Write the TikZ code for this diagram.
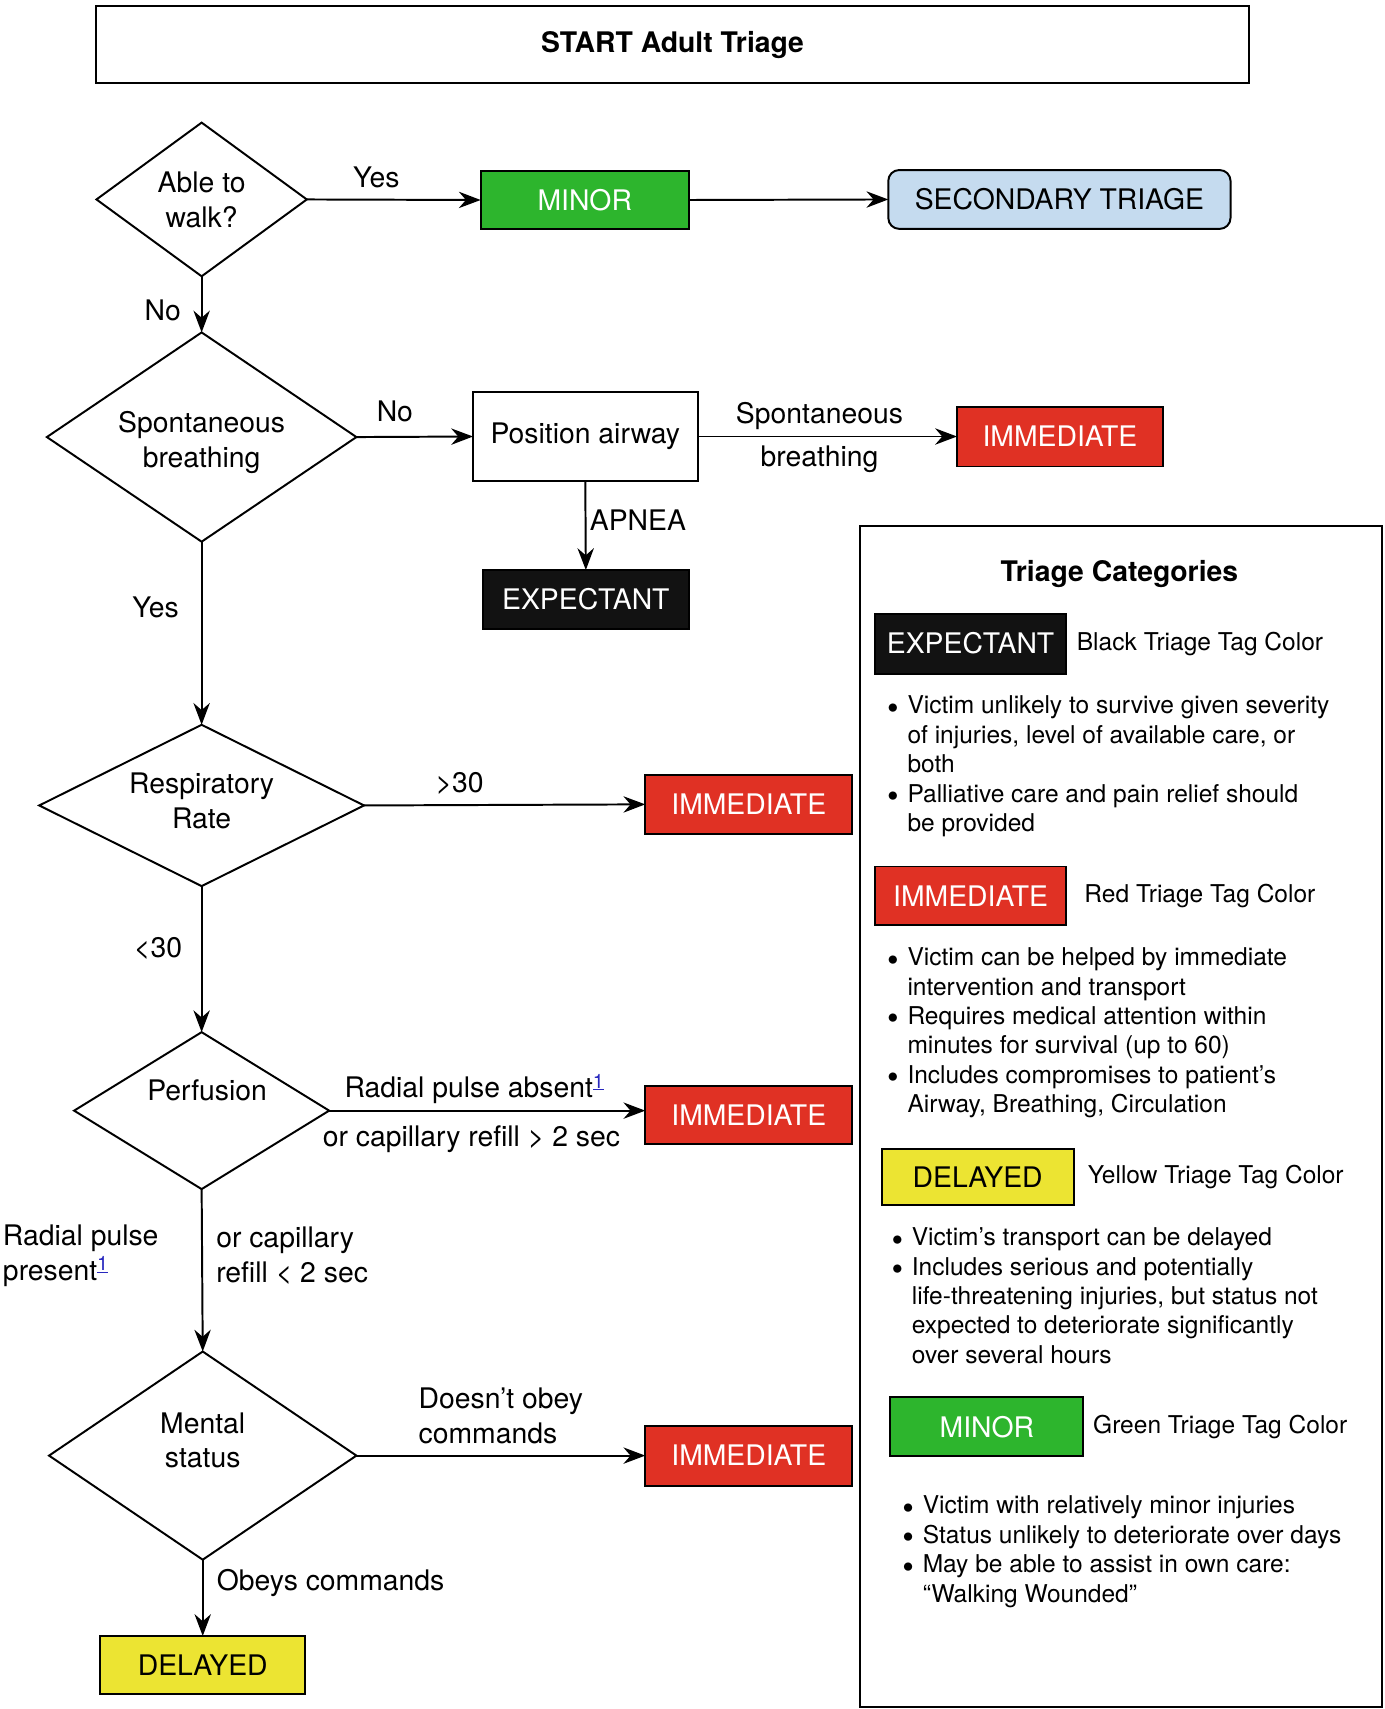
\documentclass[tikz,border=0pt]{standalone}
\usepackage{fontspec}
\setmainfont{TeX Gyre Heros}
\usetikzlibrary{shapes.geometric,arrows.meta,positioning}

\definecolor{tagred}{RGB}{224,49,36}
\definecolor{taggreen}{RGB}{45,181,45}
\definecolor{tagyellow}{RGB}{236,228,50}
\definecolor{tagblack}{RGB}{18,18,18}
\definecolor{secblue}{RGB}{197,219,239}
\definecolor{linkblue}{RGB}{40,40,190}

\newcommand{\flowfont}{\fontsize{26}{32}\selectfont}
\newcommand{\legfont}{\fontsize{22.5}{27}\selectfont}
\newcommand{\fnref}{\textsuperscript{\color{linkblue}\underline{1}}}
\newcommand{\bul}{\raisebox{-5pt}{\scalebox{1.35}{\textbullet}}}
\newcommand{\taglist}[1]{\begin{tabular}{@{}l@{\hspace{8pt}}l@{}}#1\end{tabular}}

\begin{document}
\begin{tikzpicture}[x=1pt,y=-1pt,every node/.style={outer sep=0pt},line width=1.8pt,
 decision/.style={draw,diamond,inner sep=0pt,font=\flowfont,align=center},
 tag/.style={draw,line width=1.8pt,minimum width=190pt,minimum height=54pt,font=\flowfont},
 immediate/.style={tag,fill=tagred,text=white},
 minor/.style={tag,fill=taggreen,text=white},
 delayed/.style={tag,fill=tagyellow},
 expectant/.style={tag,fill=tagblack,text=white},
 lab/.style={font=\flowfont,inner sep=0pt},
 legtext/.style={font=\legfont,inner sep=0pt},
 flow/.style={-{Stealth[length=20pt,width=15pt]}}]

\useasboundingbox (0,0) rectangle (1270,1568);

\node[draw,minimum width=1058pt,minimum height=71pt,font=\flowfont\bfseries] (title) at (617,41) {START Adult Triage};

% flow chart
\node[decision,minimum width=193pt,minimum height=141pt,aspect=1.37] (walk) at (185,183) {Able to\\walk?};
\node[minor,minimum width=191pt,minimum height=53pt] (minor) at (536.5,183.5) {MINOR};
\node[tag,fill=secblue,rounded corners=10pt,minimum width=314pt] (sec) at (972,183) {SECONDARY TRIAGE};

\node[decision,minimum width=284pt,minimum height=192pt,aspect=1.48,
 label={[lab,align=center,yshift=-5pt]center:{Spontaneous\\breathing}}] (breath) at (185,401) {};
\node[tag,minimum width=206pt,minimum height=81pt] (airway) at (537,400.5) {Position airway};
\node[immediate,minimum width=189pt,minimum height=55pt] (imm1) at (972.5,400.5) {IMMEDIATE};
\node[expectant,minimum width=189pt] (expect) at (537.5,550) {EXPECTANT};

\node[decision,minimum width=298pt,minimum height=148pt,aspect=2,
 label={[lab,align=center,yshift=4pt]center:{Respiratory\\Rate}}] (resp) at (185,739) {};
\node[immediate] (imm2) at (687,738) {IMMEDIATE};

\node[decision,minimum width=234pt,minimum height=144pt,aspect=1.6,
 label={[lab,xshift=5pt,yshift=19pt]center:Perfusion}] (perf) at (185,1019) {};
\node[immediate] (imm3) at (687,1023) {IMMEDIATE};

\node[decision,minimum width=282pt,minimum height=191pt,aspect=1.48,
 label={[lab,align=center,yshift=14pt]center:{Mental\\status}}] (mental) at (186,1335.5) {};
\node[immediate,minimum height=55pt] (imm4) at (687,1335.5) {IMMEDIATE};
\node[delayed,minimum width=188pt,minimum height=53pt] (delay) at (186,1527.5) {DELAYED};

\draw[flow] (walk.east) -- (minor.west) node[lab,pos=0.4,above=11pt] {Yes};
\draw[flow] (minor.east) -- (sec.west);
\draw[flow] (walk.south) -- (breath.north) node[lab,pos=0.6,left=19pt] {No};
\draw[flow] (breath.east) -- (airway.west) node[lab,pos=0.33,above=14pt] {No};
\draw[flow] (airway.east) -- (imm1.west) node[lab,pos=0.47,above=6pt] {Spontaneous} node[lab,pos=0.47,below=9pt] {breathing};
\draw[flow] (airway.south) -- (expect.north) node[lab,pos=0.44,right=4pt] {APNEA};
\draw[flow] (breath.south) -- (resp.north) node[lab,pos=0.36,left=21pt] {Yes};
\draw[flow] (resp.east) -- (imm2.west) node[lab,pos=0.34,above=10pt] {>30};
\draw[flow] (resp.south) -- (perf.north) node[lab,pos=0.43,left=18pt] {<30};
\draw[flow] (perf.east) -- (perf.east -| imm3.west) node[lab,pos=0.46,above=6pt] {Radial pulse absent\fnref}
 node[lab,pos=0.45,below=14pt] {or capillary refill > 2 sec};
\draw[flow] (perf.south) -- (mental.north) node[lab,pos=0.41,left=40pt,align=left] {Radial pulse\\present\fnref}
 node[lab,pos=0.41,right=13pt,align=left] {or capillary\\refill < 2 sec};
\draw[flow] (mental.east) -- (imm4.west) node[lab,midway,above=11pt,align=left] {Doesn’t obey\\commands};
\draw[flow] (mental.south) -- (delay.north) node[lab,pos=0.3,right=13pt] {Obeys commands};

% legend
\node[draw,minimum width=479pt,minimum height=1083pt] (legend) at (1028.5,1024.5) {};
\node[font=\flowfont\bfseries] (legtitle) at (1027,527) {Triage Categories};

\node[expectant,minimum width=175pt,minimum height=55pt] (kexp) at (890.5,590.5) {EXPECTANT};
\node[legtext,right=10pt of kexp] (kexptxt) {Black Triage Tag Color};
\node[legtext,anchor=north west] (kexplist) at ([xshift=11pt,yshift=-18pt]kexp.south west) {\taglist{%
 \bul & Victim unlikely to survive given severity\\
  & of injuries, level of available care, or\\
  & both\\
 \bul & Palliative care and pain relief should\\
  & be provided}};

\node[immediate,minimum width=175pt] (kimm) at (890.5,822) {IMMEDIATE};
\node[legtext,right=17pt of kimm] (kimmtxt) {Red Triage Tag Color};
\node[legtext,anchor=north west] (kimmlist) at ([xshift=11pt,yshift=-18pt]kimm.south west) {\taglist{%
 \bul & Victim can be helped by immediate\\
  & intervention and transport\\
 \bul & Requires medical attention within\\
  & minutes for survival (up to 60)\\
 \bul & Includes compromises to patient’s\\
  & Airway, Breathing, Circulation}};

\node[delayed,minimum width=176pt,minimum height=52pt] (kdel) at (897,1080) {DELAYED};
\node[legtext,right=13pt of kdel] (kdeltxt) {Yellow Triage Tag Color};
\node[legtext,anchor=north west] (kdellist) at ([xshift=9pt,yshift=-18pt]kdel.south west) {\taglist{%
 \bul & Victim’s transport can be delayed\\
 \bul & Includes serious and potentially\\
  & life-threatening injuries, but status not\\
  & expected to deteriorate significantly\\
  & over several hours}};

\node[minor,minimum width=177pt] (kmin) at (905.5,1309) {MINOR};
\node[legtext,right=9pt of kmin] (kmintxt) {Green Triage Tag Color};
\node[legtext,anchor=north west] (kminlist) at ([xshift=11pt,yshift=-34pt]kmin.south west) {\taglist{%
 \bul & Victim with relatively minor injuries\\
 \bul & Status unlikely to deteriorate over days\\
 \bul & May be able to assist in own care:\\
  & “Walking Wounded”}};

\end{tikzpicture}
\end{document}
